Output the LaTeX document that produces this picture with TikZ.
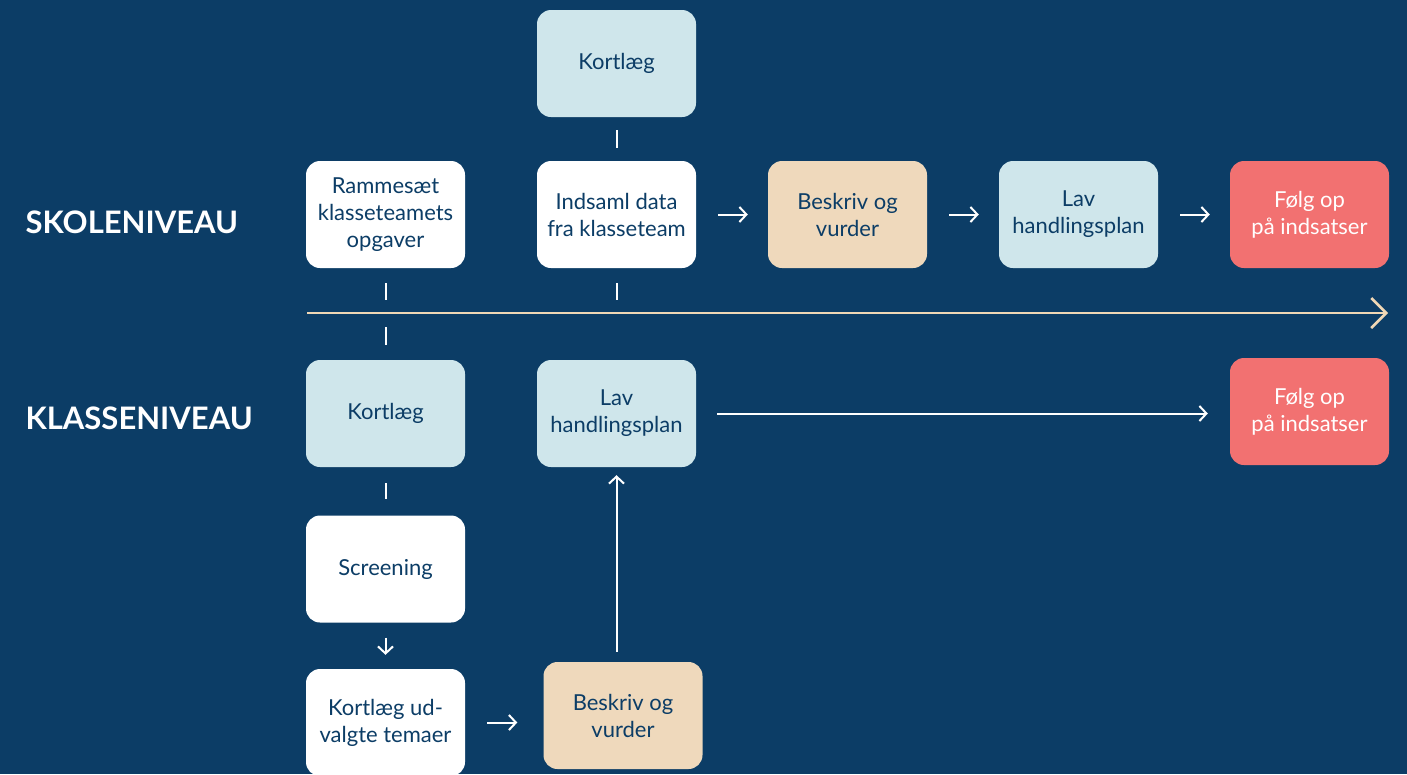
\documentclass[tikz,border=0pt]{standalone}
\usepackage{fontspec}
\setmainfont{Lato}
\usetikzlibrary{arrows.meta}
\definecolor{bgnavy}{HTML}{0C3D66}
\definecolor{txtnavy}{HTML}{0C3D66}
\definecolor{lightblue}{HTML}{CFE6EB}
\definecolor{beige}{HTML}{EFD9BC}
\definecolor{coral}{HTML}{F27171}
\definecolor{tlbeige}{HTML}{F0D8B6}
\tikzset{
  box/.style={rounded corners=14pt, minimum width=159pt, minimum height=107pt,
    inner sep=0pt, align=center, text=txtnavy,
    font=\fontsize{22}{27}\selectfont},
  wbox/.style={box, fill=white},
  bbox/.style={box, fill=lightblue},
  ybox/.style={box, fill=beige},
  rbox/.style={box, fill=coral, text=white},
  lvl/.style={anchor=west, text=white, font=\bfseries\fontsize{31}{34}\selectfont},
  conn/.style={draw=white, line width=2pt},
  arr/.style={conn, -{Straight Barb[length=7pt,width=15pt,line width=2pt]}},
}
\begin{document}
\begin{tikzpicture}[x=1pt,y=-1pt]
\fill[bgnavy] (0,0) rectangle (1407,774);
\useasboundingbox (0,0) rectangle (1407,774);

\node[bbox] (kort1) at (616.5,63.5) {Kortlæg};
\node[wbox] (ramme) at (385.5,214.5) {Rammesæt\\klasseteamets\\opgaver};
\node[wbox] (indsaml) at (616.5,214.5) {Indsaml data\\fra klasseteam};
\node[ybox] (beskriv1) at (847.5,214.5) {Beskriv og\\vurder};
\node[bbox] (lav1) at (1078.5,214.5) {Lav\\handlingsplan};
\node[rbox] (folg1) at (1309.5,214.5) {Følg op\\på indsatser};

\node[bbox] (kort2) at (385.5,413.5) {Kortlæg};
\node[bbox] (lav2) at (616.5,413.5) {Lav\\handlingsplan};
\node[rbox] (folg2) at (1309.5,411.5) {Følg op\\på indsatser};
\node[wbox] (screen) at (385.5,569) {Screening};
\node[wbox] (kortud) at (385.5,722.5) {Kortlæg ud-\\valgte temaer};
\node[ybox] (beskriv2) at (623,715.5) {Beskriv og\\vurder};

\node[lvl] (skole) at (22,222.5) {SKOLENIVEAU};
\node[lvl] (klasse) at (22,418.5) {KLASSENIVEAU};

% timeline
\coordinate (tl0) at (307,313);
\coordinate (tl1) at (1388,313);
\draw[draw=tlbeige, line width=2.5pt, -{Straight Barb[length=15pt,width=30pt,line width=2.5pt]}] (tl0) -- (tl1);

% dashes
\draw[conn, shorten <=13pt, shorten >=13pt] (kort1.south) -- (indsaml.north);
\draw[conn, shorten <=15pt, shorten >=15pt, dash pattern=on 17pt off 27pt on 18pt off 200pt] (ramme.south) -- (kort2.north);
\draw[conn, shorten <=15pt, shorten >=13pt] (indsaml.south) -- (indsaml.south |- tl0);
\draw[conn, shorten <=16pt, shorten >=16pt] (kort2.south) -- (screen.north);

% arrows
\draw[arr, shorten <=15pt, shorten >=14pt] (screen.south) -- (kortud.north);
\draw[arr, shorten <=22pt, shorten >=26pt] (kortud.east) -- (kortud.east -| beskriv2.west);
\draw[arr, shorten <=10pt, shorten >=8pt] (lav2 |- beskriv2.north) -- (lav2.south);
\draw[arr, shorten <=22pt, shorten >=20pt] (indsaml.east) -- (beskriv1.west);
\draw[arr, shorten <=22pt, shorten >=20pt] (beskriv1.east) -- (lav1.west);
\draw[arr, shorten <=22pt, shorten >=20pt] (lav1.east) -- (folg1.west);
\draw[arr, shorten <=21pt, shorten >=22pt] (lav2.east) -- (lav2.east -| folg2.west);
\end{tikzpicture}
\end{document}
